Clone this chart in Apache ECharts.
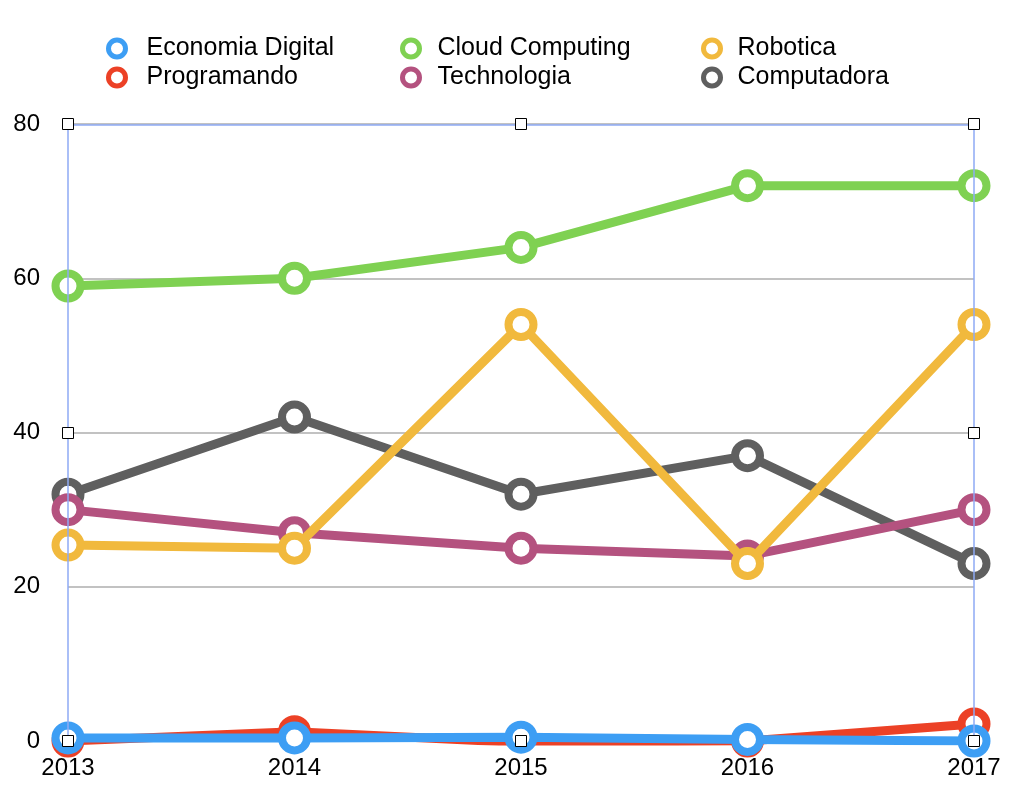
<!DOCTYPE html>
<html><head><meta charset="utf-8">
<script src="https://cdn.jsdelivr.net/npm/echarts@6/dist/echarts.min.js"></script>
<style>html,body{margin:0;padding:0;background:#fff}#c{width:1016px;height:808px}</style>
</head><body><div id="c"></div>
<script>
const years = ['2013','2014','2015','2016','2017'];
const economiaDigital = [0.4, 0.4, 0.5, 0.2, 0];
const programando = [0, 1.2, -0.2, 0, 2.2];
const cloudComputing = [59, 60, 64, 72, 72];
const technologia = [30, 27, 25, 24, 30];
const robotica = [25.4, 25, 54, 23, 54];
const computadora = [32, 42, 32, 37, 23];
const yTicks = [0, 20, 40, 60, 80];

const colors = {
  'Economia Digital': '#3d9ef4',
  'Programando': '#ec4126',
  'Cloud Computing': '#7fd152',
  'Technologia': '#b4527f',
  'Robotica': '#f1b93d',
  'Computadora': '#5f5f5f'
};
function mk(name, data, z) {
  return {
    name, type: 'line', data, z,
    symbol: 'circle', symbolSize: 25,
    lineStyle: { width: 9, color: colors[name] },
    itemStyle: { color: '#fff', borderColor: colors[name], borderWidth: 8 },
    emphasis: { disabled: true },
    animation: false
  };
}
const font = '"Liberation Sans", Arial, sans-serif';
function leg(names, left, pad) {
  return {
    data: names, orient: 'vertical', left, top: 31, itemGap: 4,
    icon: 'circle', itemWidth: 17, itemHeight: 17,
    itemStyle: { color: '#fff', borderWidth: 5 },
    textStyle: { fontFamily: font, fontSize: 25, color: '#000', padding: [0, 0, 0, pad] },
    selectedMode: false
  };
}
const chart = echarts.init(document.getElementById('c'));
chart.setOption({
  animation: false,
  color: Object.values(colors),
  legend: [
    leg(['Economia Digital', 'Programando'], 101, 16),
    leg(['Cloud Computing', 'Technologia'], 395, 13),
    leg(['Robotica', 'Computadora'], 696, 12)
  ],
  grid: { left: 68, right: 42, top: 124, bottom: 67 },
  xAxis: {
    type: 'category', data: years, boundaryGap: false,
    axisLine: { show: false }, axisTick: { show: false },
    axisLabel: { fontFamily: font, fontSize: 24, color: '#000', margin: 15 }
  },
  yAxis: {
    type: 'value', min: yTicks[0], max: yTicks[yTicks.length - 1], interval: 20,
    axisLine: { show: false }, axisTick: { show: false },
    axisLabel: { fontFamily: font, fontSize: 24, color: '#000', margin: 28 },
    splitLine: { lineStyle: { color: '#c2c2c2', width: 2 } }
  },
  series: [
    mk('Computadora', computadora, 2),
    mk('Technologia', technologia, 3),
    mk('Robotica', robotica, 4),
    mk('Cloud Computing', cloudComputing, 5),
    mk('Programando', programando, 6),
    mk('Economia Digital', economiaDigital, 7)
  ]
});
// selection frame and handles on the plot, positioned through the axes
const px = (xv, yv) => chart.convertToPixel({ gridIndex: 0 }, [xv, yv]);
const tl = px(years[0], yTicks[4]), br = px(years[4], yTicks[0]);
const g = [];
const frameStyle = { stroke: '#8eaaf4', lineWidth: 1.5 };
g.push({ type: 'line', z: 90, shape: { x1: tl[0], y1: tl[1], x2: tl[0], y2: br[1] }, style: frameStyle });
g.push({ type: 'line', z: 90, shape: { x1: br[0], y1: tl[1], x2: br[0], y2: br[1] }, style: frameStyle });
g.push({ type: 'line', z: 90, shape: { x1: tl[0], y1: tl[1] + 1, x2: br[0], y2: tl[1] + 1 }, style: frameStyle });
const hx = [years[0], years[2], years[4]];
const hy = [yTicks[0], yTicks[2], yTicks[4]];
hx.forEach((xv, i) => hy.forEach((yv, j) => {
  if (i === 1 && j === 1) return;
  const p = px(xv, yv);
  g.push({ type: 'rect', z: 100, shape: { x: Math.round(p[0]) - 5.5, y: Math.round(p[1]) - 5.5, width: 11, height: 11 },
    style: { fill: '#fff', stroke: '#000', lineWidth: 1 } });
}));
chart.setOption({ graphic: g });
</script></body></html>
